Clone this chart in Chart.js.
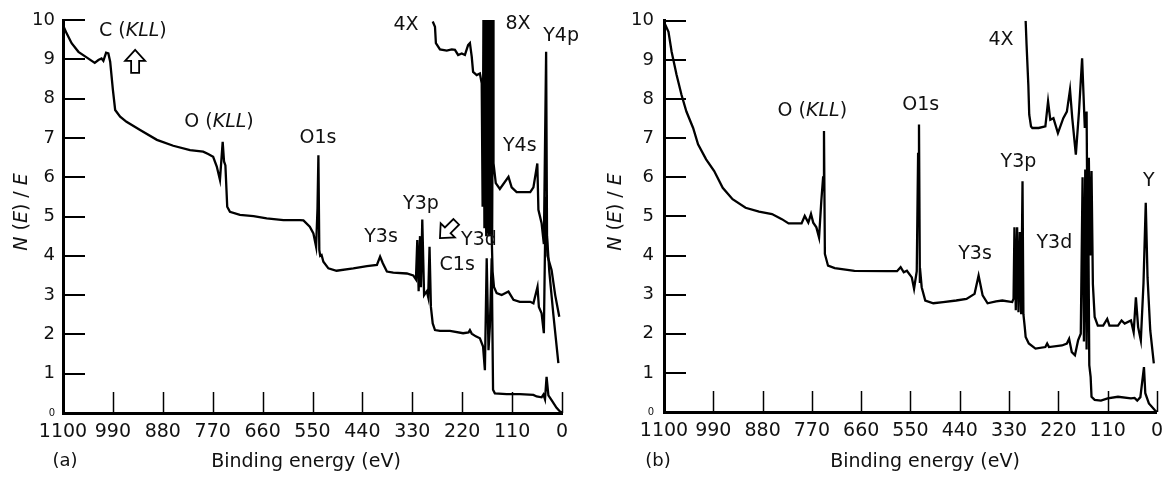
<!DOCTYPE html>
<html>
<head>
<meta charset="utf-8">
<title>XPS survey spectra</title>
<script src="https://cdn.jsdelivr.net/npm/chart.js@4.4.1/dist/chart.umd.min.js"></script>
<style>
  html, body { margin: 0; padding: 0; background: #fff; }
  #wrap { position: relative; width: 1171px; height: 483px; overflow: hidden; }
  canvas { position: absolute; top: 0; }
  #chartA { left: 0; }
  #chartB { left: 590px; }
</style>
</head>
<body>
<div id="wrap">
  <canvas id="chartA" width="590" height="483"></canvas>
  <canvas id="chartB" width="581" height="483"></canvas>
</div>
<script>
// [binding energy (eV), N(E)/E]

// (a) full-scale trace
const a1x = [
  [1100, 9.87], [1092, 9.66], [1081, 9.41], [1066, 9.19], [1048, 9.05], [1030, 8.91], [1022, 8.98],
  [1015, 9.02], [1011, 8.96], [1005, 9.17], [1000, 9.15], [996, 8.94], [990, 8.22], [985, 7.71],
  [974, 7.54], [960, 7.41], [930, 7.2], [893, 6.95], [857, 6.8], [820, 6.69], [791, 6.65], [780, 6.59],
  [769, 6.52], [761, 6.27], [754, 5.93], [748, 6.9], [745, 6.4], [742, 6.3], [738, 5.25], [732, 5.12],
  [710, 5.04], [680, 5.01], [651, 4.95], [614, 4.91], [578, 4.91], [570, 4.9], [556, 4.74], [548, 4.57],
  [542, 4.23], [539, 5.2], [537, 6.56], [535, 4.15], [533, 4.0], [530, 4.02], [526, 3.85], [515, 3.68],
  [497, 3.62], [460, 3.68], [430, 3.74], [408, 3.77], [401, 3.98], [395, 3.81], [386, 3.6], [372, 3.57],
  [342, 3.55], [328, 3.5], [322, 3.4], [319, 4.4], [316, 3.1], [313, 4.5], [311, 3.2], [308, 4.92],
  [304, 3.0], [298, 3.1], [295, 2.95], [292, 4.23], [289, 2.7], [285, 2.28], [280, 2.11], [269, 2.09],
  [247, 2.09], [218, 2.03], [206, 2.05], [203, 2.11], [199, 2.02], [190, 1.95], [181, 1.9], [174, 1.69],
  [170, 1.09], [166, 3.94], [162, 1.6], [159, 2.2], [155, 3.94], [152, 0.59], [148, 0.5], [122, 0.48],
  [93, 0.48], [63, 0.46], [56, 0.42], [45, 0.4], [41, 0.47], [37.5, 0.35], [34, 0.92], [30, 0.45],
  [23, 0.33], [12, 0.13], [4, 0.03], [0, 0.02]
];
// (a) 4X expanded trace
const a4x = [
  [285, 9.96], [280, 9.83], [278, 9.41], [269, 9.25], [254, 9.22], [243, 9.25], [236, 9.24], [229, 9.11],
  [221, 9.15], [214, 9.11], [207, 9.36], [203, 9.41], [199, 9.07], [196, 8.68], [188, 8.6], [181, 8.64],
  [177, 8.39], [175, 5.25], [173, 10.5], [171, 4.7], [169, 10.5], [167, 4.5], [165, 10.5], [163, 4.6],
  [161, 10.5], [159, 4.5], [157, 10.5], [155, 4.5], [153, 3.6], [150, 3.21], [144, 3.05], [133, 3.0],
  [118, 3.09], [107, 2.88], [93, 2.83], [70, 2.83], [63, 2.79], [54, 3.21], [51, 2.7], [45, 2.54],
  [40, 2.03], [36, 5.5], [32, 4.0], [23, 3.64], [15, 3.0], [6, 2.45]
];
// (a) 8X expanded trace
const a8x = [
  [168, 10.5], [166, 4.6], [164, 10.5], [162, 4.5], [160, 10.5], [158, 4.6], [156, 10.5], [154, 4.5],
  [152, 10.5], [151, 6.36], [146, 5.85], [137, 5.7], [118, 6.01], [111, 5.74], [100, 5.62], [70, 5.62],
  [63, 5.74], [54.4, 6.35], [52, 5.17], [45, 4.83], [40, 4.3], [35, 9.19], [33, 4.5], [28, 3.6],
  [19, 2.5], [8, 1.27]
];

// (b) full-scale trace
const b1x = [
  [1100, 9.97], [1090, 9.72], [1083, 9.21], [1072, 8.62], [1061, 8.11], [1050, 7.68], [1035, 7.26],
  [1024, 6.84], [1006, 6.46], [988, 6.16], [969, 5.73], [947, 5.44], [918, 5.22], [888, 5.12], [859, 5.06],
  [837, 4.93], [822, 4.82], [793, 4.82], [786, 5.01], [778, 4.84], [772, 5.06], [767, 4.84], [760, 4.72],
  [754, 4.46], [749, 5.39], [745, 6.0], [743, 7.18], [741, 4.04], [734, 3.74], [719, 3.68], [675, 3.61],
  [602, 3.6], [580, 3.6], [572, 3.7], [565, 3.57], [558, 3.61], [547, 3.44], [542, 3.15], [536, 3.6],
  [533, 6.6], [531, 7.35], [529, 3.3], [527, 3.45], [525, 3.19], [517, 2.85], [499, 2.78], [477, 2.81],
  [448, 2.85], [425, 2.89], [407, 3.02], [398, 3.49], [389, 2.98], [378, 2.78], [359, 2.83], [345, 2.85],
  [323, 2.81], [320, 2.9], [318, 4.72], [315, 2.6], [312, 4.72], [309, 2.55], [306, 4.6], [303, 2.5],
  [300, 5.9], [298, 2.5], [295, 2.17], [293, 1.92], [286, 1.75], [271, 1.62], [249, 1.66], [245, 1.75],
  [241, 1.66], [212, 1.7], [201, 1.75], [196, 1.87], [190, 1.53], [183, 1.45], [176, 1.83], [170, 2.0],
  [166, 6.0], [163, 1.8], [160, 6.2], [157, 1.6], [154, 6.16], [151, 1.2], [148, 0.9], [146, 0.39],
  [139, 0.31], [125, 0.29], [110, 0.35], [87, 0.39], [58, 0.35], [50, 0.36], [44, 0.29], [37, 0.38],
  [29, 1.15], [26, 0.48], [18, 0.22], [5, 0.05], [0, 0.0]
];
// (b) 4X expanded trace
const b4x = [
  [293, 10.0], [291, 9.4], [287, 8.36], [285, 7.6], [281, 7.3], [278, 7.26], [264, 7.26], [249, 7.3],
  [243, 7.94], [238, 7.47], [231, 7.51], [221, 7.13], [209, 7.51], [201, 7.68], [194, 8.24], [189, 7.51],
  [181, 6.58], [174, 7.68], [167, 9.04], [161, 7.26], [157, 7.68], [155, 4.5], [152, 6.5], [149, 4.0],
  [146, 6.16], [143, 3.27], [139, 2.43], [132, 2.21], [120, 2.21], [111, 2.38], [106, 2.21], [87, 2.21],
  [79, 2.34], [72, 2.26], [58, 2.34], [52, 2.04], [47, 2.93], [42, 2.17], [36, 1.83], [30, 3.3],
  [25, 5.35], [21, 3.44], [15, 2.09], [7, 1.24]
];

// peak labels: text (*...* = italic), anchored at [eV, N(E)/E]
const aPeakLabels = [
  ['C (*KLL*)', 946, 9.72], ['O (*KLL*)', 756, 7.4], ['O1s', 538, 7.0], ['Y3s', 399, 4.48],
  ['Y3p', 311, 5.32], ['Y3d', 183, 4.4], ['C1s', 231, 3.77], ['4X', 344, 9.87], ['8X', 97, 9.9],
  ['Y4p', 2, 9.6], ['Y4s', 93, 6.8]
];
const bPeakLabels = [
  ['O (*KLL*)', 769, 7.68], ['O1s', 527, 7.84], ['4X', 348, 9.52], ['Y3p', 309, 6.39],
  ['Y3s', 406, 4.05], ['Y3d', 229, 4.33], ['Y', 18, 5.9]
];
// outline arrows: tip at [eV, N(E)/E], direction in degrees (screen, 0 = right)
const aArrows = [[941, 9.24, -90], [269, 4.45, 135]];
const bArrows = [];

const FONT = '"DejaVu Sans", "Liberation Sans", sans-serif';
const INK = '#000';

function toPts(pairs) {
  return pairs.map(([x, y]) => ({ x, y }));
}

// text with *italic* runs, centred on (cx, cy)
function drawRich(ctx, text, cx, cy, size) {
  const parts = text.split('*');
  const fonts = parts.map((p, i) => (i % 2 ? 'italic ' : '') + size + 'px ' + FONT);
  const widths = parts.map((p, i) => { ctx.font = fonts[i]; return ctx.measureText(p).width; });
  let xx = cx - widths.reduce((s, w) => s + w, 0) / 2;
  ctx.textAlign = 'left';
  ctx.textBaseline = 'middle';
  parts.forEach((p, i) => {
    ctx.font = fonts[i];
    ctx.fillText(p, xx, cy);
    xx += widths[i];
  });
}

function drawArrow(ctx, tx, ty, deg) {
  const len = 23, hl = 11, hw = 20, sw = 8;
  const pts = [[0, 0], [-hl, -hw / 2], [-hl, -sw / 2], [-len, -sw / 2], [-len, sw / 2], [-hl, sw / 2], [-hl, hw / 2]];
  const a = deg * Math.PI / 180, c = Math.cos(a), s = Math.sin(a);
  ctx.beginPath();
  pts.forEach(([px, py], i) => {
    const X = tx + px * c - py * s, Y = ty + px * s + py * c;
    if (i) ctx.lineTo(X, Y); else ctx.moveTo(X, Y);
  });
  ctx.closePath();
  ctx.fillStyle = '#fff';
  ctx.fill();
  ctx.lineWidth = 1.8;
  ctx.strokeStyle = '#000';
  ctx.stroke();
}

// inward tick marks, peak labels, arrows and titles
function decor(panel) {
  return {
    id: 'decor',
    afterDraw(chart) {
      const { ctx, chartArea: area, scales: { x, y } } = chart;
      ctx.save();
      ctx.strokeStyle = '#000';
      ctx.lineWidth = 1.5;
      x.ticks.forEach(t => {
        const px = Math.round(x.getPixelForValue(t.value)) + 0.5;
        ctx.beginPath();
        ctx.moveTo(px, area.bottom);
        ctx.lineTo(px, area.bottom - 21);
        ctx.stroke();
      });
      ctx.lineWidth = 2;
      y.ticks.forEach(t => {
        const py = Math.round(y.getPixelForValue(t.value));
        ctx.beginPath();
        ctx.moveTo(area.left, py);
        ctx.lineTo(area.left + 22, py);
        ctx.stroke();
      });

      ctx.fillStyle = '#111';
      panel.labels.forEach(([txt, ev, n]) => {
        drawRich(ctx, txt, x.getPixelForValue(ev), y.getPixelForValue(n), 19);
      });
      panel.arrows.forEach(([ev, n, ang]) => {
        drawArrow(ctx, x.getPixelForValue(ev), y.getPixelForValue(n), ang);
      });

      ctx.fillStyle = '#111';
      ctx.save();
      ctx.translate(panel.yTitleX, 212);
      ctx.rotate(-Math.PI / 2);
      drawRich(ctx, '*N* (*E*) / *E*', 0, 0, 19);
      ctx.restore();
      drawRich(ctx, panel.tag, panel.tagX, 461, 18);
      drawRich(ctx, 'Binding energy (eV)', panel.xTitleX, 462, 19);
      ctx.restore();
    }
  };
}

function makeChart(panel) {
  const canvas = document.getElementById(panel.id);
  return new Chart(canvas, {
    type: 'line',
    data: {
      datasets: panel.traces.map(t => ({
        data: toPts(t),
        borderColor: INK,
        borderWidth: 2.3,
        pointRadius: 0,
        tension: 0,
        fill: false
      }))
    },
    options: {
      responsive: false,
      animation: false,
      devicePixelRatio: 1,
      events: [],
      layout: { padding: { top: panel.top, right: panel.right, left: 0, bottom: 0 } },
      plugins: { legend: { display: false }, tooltip: { enabled: false } },
      scales: {
        x: {
          type: 'linear',
          min: 0,
          max: 1100,
          reverse: true,
          afterFit: s => { s.height = panel.xAxisH; },
          grid: { display: false, drawTicks: false },
          border: { display: true, color: '#000', width: 3 },
          ticks: {
            stepSize: 110,
            autoSkip: false,
            maxRotation: 0,
            padding: 8,
            color: '#111',
            font: { family: FONT, size: 19 },
            callback: v => String(v)
          }
        },
        y: {
          min: 0,
          max: 10,
          afterFit: s => { s.width = panel.yAxisW; },
          grid: { display: false, drawTicks: false },
          border: { display: true, color: '#000', width: 3 },
          ticks: {
            stepSize: 1,
            padding: panel.yPad,
            color: '#111',
            font: c => ({ family: FONT, size: c.tick && c.tick.value === 0 ? 10 : 18 }),
            callback: v => String(v)
          }
        }
      }
    },
    plugins: [decor(panel)]
  });
}

makeChart({
  id: 'chartA', traces: [a1x, a4x, a8x], labels: aPeakLabels, arrows: aArrows,
  top: 20, right: 28, xAxisH: 70, yAxisW: 63, yPad: 8,
  yTitleX: 22, tag: '(a)', tagX: 65, xTitleX: 306
});
makeChart({
  id: 'chartB', traces: [b1x, b4x], labels: bPeakLabels, arrows: bArrows,
  top: 19, right: 8, xAxisH: 71, yAxisW: 74, yPad: 10,
  yTitleX: 26, tag: '(b)', tagX: 68, xTitleX: 335
});
</script>
</body>
</html>
